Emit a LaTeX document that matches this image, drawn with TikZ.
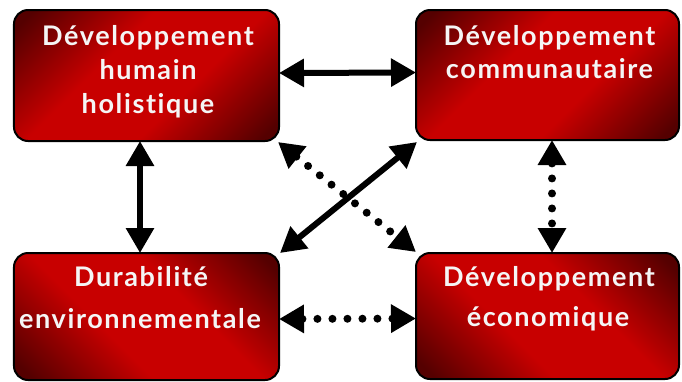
\documentclass[tikz,border=0pt]{standalone}
\usepackage{fontspec}
\setmainfont[LetterSpace=6,Ligatures=NoCommon]{Lato}
\usetikzlibrary{arrows.meta,calc}
\definecolor{boxdark}{RGB}{85,0,0}
\definecolor{boxred}{RGB}{200,0,0}
\definecolor{txt}{RGB}{245,245,245}
\pgfdeclarehorizontalshading{boxshade}{100bp}{color(0bp)=(boxdark); color(18bp)=(boxdark); color(40bp)=(boxred); color(60bp)=(boxred); color(82bp)=(boxdark); color(100bp)=(boxdark)}
\begin{document}
\begin{tikzpicture}[x=1bp,y=-1bp,
  box/.style={draw=black, line width=2bp, rounded corners=14bp, shade, shading=boxshade,
    minimum width=265bp, minimum height=131bp, inner sep=0pt, outer sep=0pt},
  lbl/.style={text=txt, font=\fontsize{27bp}{30bp}\selectfont\bfseries, anchor=base, inner sep=0pt},
  solidarrow/.style={line width=6bp, {Triangle[length=25bp,width=27bp]}-{Triangle[length=25bp,width=27bp]}},
  dotarrow/.style={line width=8bp, line cap=round, dash pattern=on 0bp off 15bp,
    {Triangle[length=25bp,width=27bp]}-{Triangle[length=25bp,width=27bp]}}]
\useasboundingbox (0,0) rectangle (682,381);
\node[box, shading angle=-45] (tl) at (146.5,75.5) {};
\node[box, shading angle=-45, minimum width=263bp, minimum height=130bp] (tr) at (547.5,75) {};
\node[box, shading angle=45, minimum height=127bp] (bl) at (146.5,316.5) {};
\node[box, shading angle=45, minimum width=263bp, minimum height=126bp] (br) at (547.5,316) {};
\node[lbl] (tl1) at (148,45) {Développement};
\node[lbl] (tl2) at (148,79) {humain};
\node[lbl] (tl3) at (148,113) {holistique};
\node[lbl] (tr1) at (549.5,45) {Développement};
\node[lbl] (tr2) at (549.5,78) {communautaire};
\node[lbl] (bl1) at (141,286) {Durabilité};
\node[lbl] (bl2) at (140,328) {environnementale};
\node[lbl] (br1) at (549,286) {Développement};
\node[lbl] (br2) at (548,326) {économique};
\draw[solidarrow] ($(tl.east)+(0,-2.5)$) -- ($(tr.west)+(0,-2.5)$);
\draw[solidarrow] ($(tl.south)+(-6.5,0)$) -- ($(bl.north)+(-6.5,0)$);
\draw[dotarrow] ($(tr.south)+(4.5,0)$) -- ($(br.north)+(4.5,0)$);
\draw[dotarrow] ($(bl.east)+(0,2.5)$) -- ($(br.west)+(0,2.5)$);
\draw[solidarrow] ($(tr.south west)+(1,2)$) -- ($(bl.north east)+(1,0)$);
\draw[dotarrow] ($(tl.south east)+(-1,1)$) -- ($(br.north west)+(0,-1)$);
\end{tikzpicture}
\end{document}
